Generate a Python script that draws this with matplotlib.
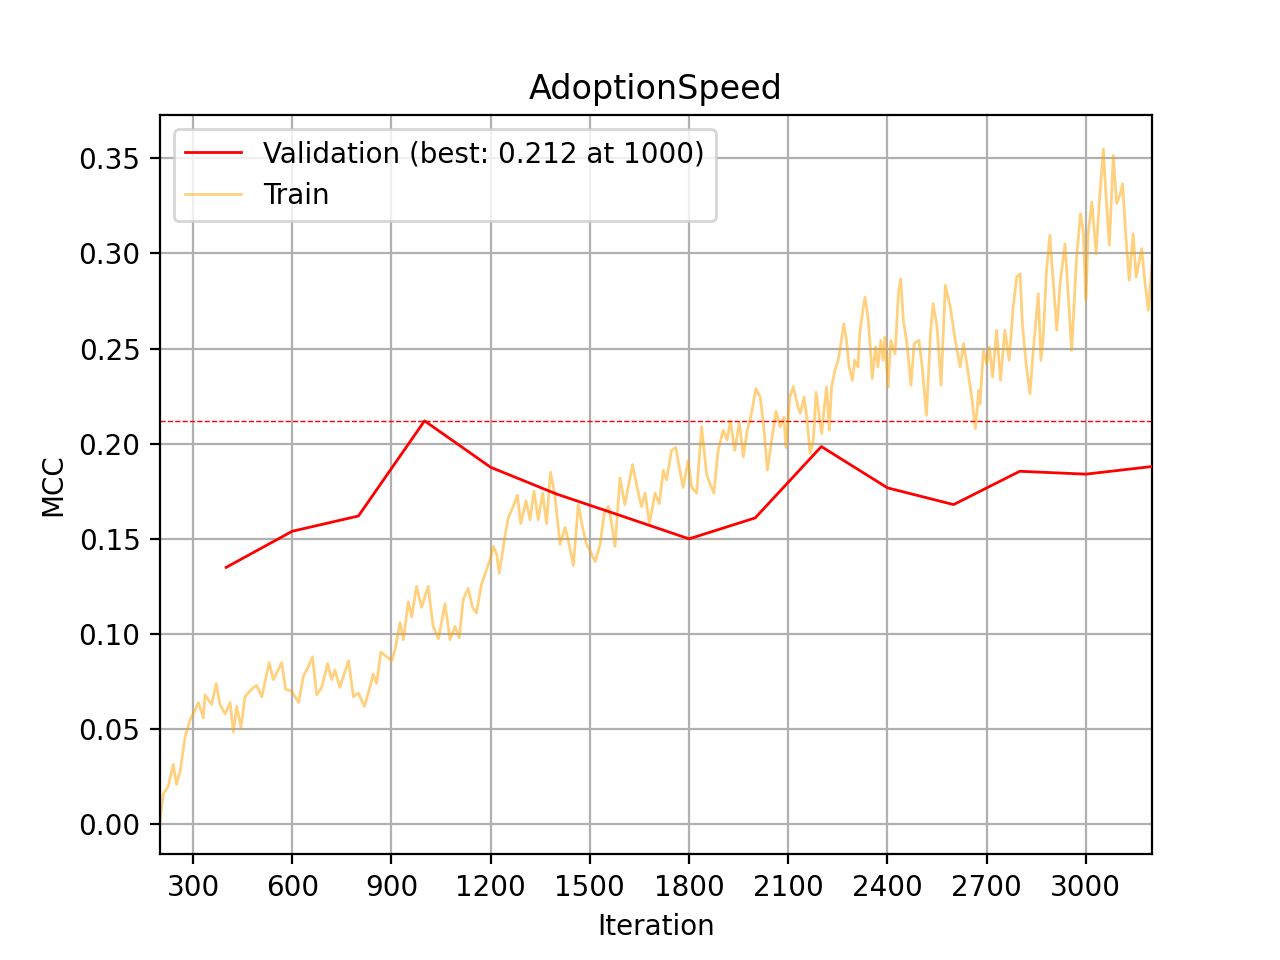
import matplotlib
matplotlib.use("Agg")
import matplotlib.pyplot as plt
import numpy as np

# --- data ---
val_iter = [400, 600, 800, 1000, 1200, 1400, 1600, 1800, 2000, 2200, 2400, 2600, 2800, 3000, 3200]
val_mcc = [0.135, 0.154, 0.162, 0.212, 0.1876, 0.1735, 0.1618, 0.150, 0.161, 0.1985,
           0.1768, 0.168, 0.1855, 0.184, 0.188]

train_iter = [
    200, 210, 225, 240, 250, 261, 276, 291, 306, 316, 331, 336, 356, 370, 381, 397,
    412, 422, 432, 445, 457, 477, 492, 508, 530, 543, 568, 580, 598, 619, 634, 649,
    661, 674, 689, 707, 719, 729, 744, 770, 785, 800, 818, 830, 845, 855, 868, 886,
    901, 911, 926, 936, 951, 961, 976, 991, 1011, 1026, 1042, 1062, 1077, 1092, 1105,
    1117, 1132, 1145, 1157, 1172, 1187, 1198, 1208, 1218, 1226, 1243, 1253, 1268, 1281,
    1291, 1307, 1319, 1331, 1344, 1357, 1369, 1381, 1394, 1410, 1425, 1435, 1450, 1465,
    1478, 1490, 1500, 1516, 1531, 1543, 1556, 1566, 1576, 1591, 1606, 1616, 1629, 1643,
    1656, 1667, 1680, 1697, 1710, 1722, 1732, 1747, 1760, 1772, 1782, 1797, 1808, 1823,
    1838, 1853, 1863, 1875, 1888, 1903, 1915, 1925, 1938, 1952, 1964, 1976, 1989, 2002,
    2015, 2025, 2037, 2050, 2063, 2075, 2087, 2093, 2105, 2115, 2130, 2136, 2148, 2156,
    2166, 2176, 2184, 2194, 2201, 2208, 2216, 2224, 2231, 2241, 2251, 2258, 2268, 2276,
    2284, 2294, 2301, 2311, 2316, 2324, 2332, 2341, 2348, 2354, 2364, 2371, 2380, 2387,
    2392, 2402, 2410, 2423, 2433, 2440, 2448, 2459, 2471, 2481, 2495, 2505, 2518, 2530,
    2538, 2550, 2562, 2575, 2590, 2605, 2620, 2630, 2643, 2656, 2666, 2676, 2680, 2690,
    2700, 2708, 2718, 2730, 2742, 2755, 2768, 2780, 2791, 2801, 2808, 2819, 2831, 2841,
    2856, 2864, 2871, 2881, 2891, 2901, 2912, 2922, 2937, 2947, 2957, 2972, 2984, 2992,
    3000, 3007, 3018, 3031, 3041, 3053, 3061, 3071, 3083, 3093, 3103, 3111, 3121, 3131,
    3143, 3152, 3169, 3179, 3189, 3200,
]
train_mcc = [
    0.002, 0.016, 0.020, 0.0315, 0.021, 0.028, 0.046, 0.055, 0.060, 0.064, 0.056, 0.068,
    0.063, 0.074, 0.063, 0.058, 0.064, 0.0485, 0.062, 0.051, 0.067, 0.071, 0.073, 0.067,
    0.085, 0.076, 0.085, 0.071, 0.070, 0.064, 0.078, 0.083, 0.088, 0.068, 0.072, 0.0845,
    0.076, 0.081, 0.072, 0.086, 0.067, 0.069, 0.062, 0.069, 0.079, 0.074, 0.0905, 0.088,
    0.086, 0.092, 0.106, 0.097, 0.117, 0.109, 0.125, 0.114, 0.125, 0.104, 0.0975, 0.116,
    0.097, 0.104, 0.098, 0.118, 0.124, 0.114, 0.111, 0.126, 0.1335, 0.139, 0.146, 0.142,
    0.132, 0.151, 0.161, 0.167, 0.173, 0.158, 0.170, 0.160, 0.175, 0.160, 0.174, 0.158,
    0.185, 0.173, 0.147, 0.156, 0.149, 0.136, 0.168, 0.156, 0.147, 0.144, 0.138, 0.147,
    0.163, 0.167, 0.158, 0.146, 0.182, 0.168, 0.177, 0.189, 0.177, 0.167, 0.174, 0.158,
    0.174, 0.1685, 0.186, 0.181, 0.1965, 0.198, 0.186, 0.177, 0.191, 0.177, 0.174, 0.209,
    0.184, 0.179, 0.174, 0.1965, 0.207, 0.202, 0.212, 0.1965, 0.211, 0.193, 0.207, 0.216,
    0.229, 0.2245, 0.2105, 0.186, 0.202, 0.217, 0.209, 0.214, 0.198, 0.2245, 0.230, 0.219,
    0.216, 0.2245, 0.214, 0.195, 0.202, 0.227, 0.214, 0.2053, 0.2175, 0.2298, 0.207, 0.2298,
    0.2386, 0.2438, 0.2512, 0.263, 0.2543, 0.2403, 0.2333, 0.2438, 0.2403, 0.2578, 0.2683,
    0.277, 0.2666, 0.2508, 0.2342, 0.2508, 0.2403, 0.2543, 0.2438, 0.256, 0.2298, 0.2543,
    0.2473, 0.2788, 0.2867, 0.2648, 0.2526, 0.2307, 0.2526, 0.2543, 0.2403, 0.2149, 0.2578,
    0.2736, 0.2613, 0.2307, 0.2832, 0.2718, 0.2543, 0.2403, 0.2526, 0.2386, 0.2228, 0.2079,
    0.2281, 0.221, 0.249, 0.242, 0.2508, 0.235, 0.2596, 0.2333, 0.2596, 0.2438, 0.2718,
    0.2876, 0.2893, 0.263, 0.242, 0.2263, 0.249, 0.2788, 0.2438, 0.256, 0.2911, 0.3095,
    0.2859, 0.2596, 0.2841, 0.305, 0.277, 0.249, 0.298, 0.3209, 0.3121, 0.2753, 0.3104,
    0.327, 0.2998, 0.3279, 0.3548, 0.3297, 0.3043, 0.3515, 0.3262, 0.3305, 0.3366, 0.3086,
    0.2859, 0.3104, 0.2876, 0.3025, 0.2841, 0.2701, 0.2946,
]

x_ticks = list(range(300, 3001, 300))

best_i = int(np.argmax(val_mcc))
best_val = val_mcc[best_i]
best_it = val_iter[best_i]

fig, ax = plt.subplots(figsize=(6.4, 4.8), dpi=200)

ax.plot(val_iter, val_mcc, color='red', linewidth=1, zorder=3,
        label=f'Validation (best: {best_val:.3f} at {best_it})')
ax.plot(train_iter, train_mcc, color='orange', alpha=0.5, linewidth=1.0, label='Train')
ax.axhline(best_val, color='red', linestyle='--', linewidth=0.5)

ax.set_title('AdoptionSpeed')
ax.set_xlabel('Iteration')
ax.set_ylabel('MCC')
ax.set_xticks(x_ticks)
ax.set_xlim(200, 3200)
ax.set_ylim(-0.0158, 0.3726)
ax.grid(True)
ax.legend(loc='upper left')

fig.savefig('out.png', dpi=200)
